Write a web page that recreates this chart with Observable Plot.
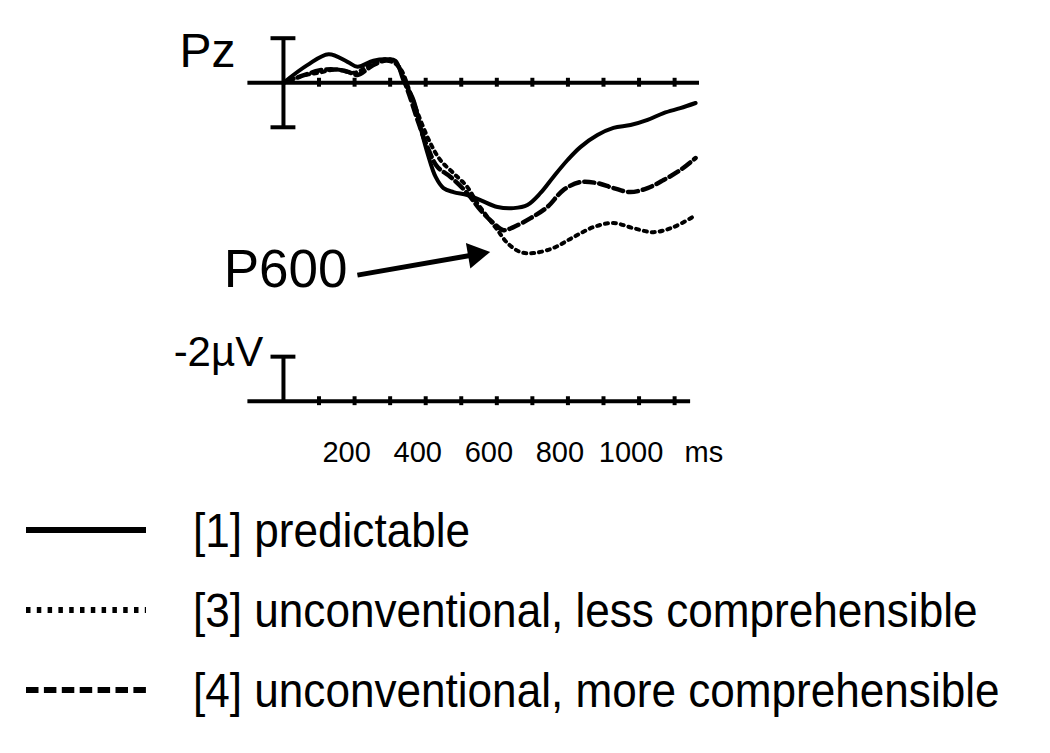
<!DOCTYPE html>
<html><head><meta charset="utf-8">
<script src="https://cdn.jsdelivr.net/npm/d3@7"></script>
<script src="https://cdn.jsdelivr.net/npm/@observablehq/plot@0.6"></script>
<style>
body{margin:0;background:#fff;font-family:"Liberation Sans",Arial,sans-serif;}
#chart svg{display:block;}
#legend .row{display:flex;align-items:center;height:80px;}
#legend svg{margin-left:26px;flex:none;}
#legend span{display:inline-block;font-size:49px;margin-left:47px;color:#000;line-height:1;white-space:nowrap;transform:scaleX(0.9);transform-origin:0 50%;}
</style></head><body>
<div id="chart"></div>
<div id="legend"></div>
<script>
// ---- data (ms, µV; positive plotted downward) ----
const predictableT = [0, 67, 127, 180, 208, 253, 292, 315, 337, 366, 385, 405, 428, 450, 478, 517, 554, 602, 647, 686, 723, 759, 799, 835, 883, 928, 976, 1024, 1069, 1116, 1159];
const predictableV = [0, -0.79, -1.28, -0.94, -0.72, -0.99, -1.05, -0.99, -0.12, 0.78, 1.99, 3.16, 4.23, 4.73, 4.91, 5.04, 5.27, 5.58, 5.63, 5.49, 4.95, 4.23, 3.47, 2.89, 2.35, 2.03, 1.90, 1.67, 1.36, 1.14, 0.91];

const lessCompT = [0, 50, 100, 150, 200, 250, 300, 330, 357, 385, 413, 441, 478, 517, 545, 574, 602, 630, 666, 703, 759, 816, 872, 928, 984, 1041, 1097, 1159];
const lessCompV = [0, -0.3, -0.45, -0.6, -0.45, -0.85, -1.05, -0.6, 0.47, 1.67, 2.71, 3.47, 4.06, 4.68, 5.40, 6.03, 6.62, 7.20, 7.60, 7.65, 7.42, 6.93, 6.48, 6.30, 6.53, 6.71, 6.48, 5.95];

const moreCompT = [0, 60, 100, 140, 180, 208, 253, 290, 320, 349, 377, 405, 433, 470, 517, 554, 591, 619, 647, 695, 742, 787, 835, 883, 928, 976, 1024, 1069, 1116, 1159];
const moreCompV = [0, -0.35, -0.55, -0.6, -0.5, -0.35, -0.8, -1.0, -0.8, 0.33, 1.67, 2.89, 3.78, 4.23, 4.96, 5.72, 6.31, 6.62, 6.48, 6.08, 5.58, 4.82, 4.46, 4.51, 4.73, 4.91, 4.73, 4.37, 3.92, 3.38];

const axisTicks = [100, 200, 300, 400, 500, 600, 700, 800, 900, 1000, 1100];
const tickLabels = [200, 400, 600, 800, 1000];
const calibrationUV = 2;        // size of scale bars in µV
const lowerAxisOffset = 14.3;   // µV offset of the lower time-scale axis

const seriesNames = ["[1] predictable", "[3] unconventional, less comprehensible", "[4] unconventional, more comprehensible"];

const toRows = (T, V) => T.map((t, i) => ({t, v: V[i]}));
const predictable = toRows(predictableT, predictableV);
const lessComp = toRows(lessCompT, lessCompV);
const moreComp = toRows(moreCompT, moreCompV);

const font = "Liberation Sans, Arial, sans-serif";
const lw = 4;

const chart = Plot.plot({
  width: 1050,
  height: 490,
  margin: 0,
  style: {background: "#fff", fontFamily: font},
  x: {domain: [-100, 1170], range: [247.4, 699], axis: null},
  y: {domain: [-2, 14.3], range: [37.7, 400.7], axis: null},
  marks: [
    // upper baseline with ticks
    Plot.ruleY([0], {x1: -100, x2: 1170, stroke: "#000", strokeWidth: lw}),
    Plot.ruleX(axisTicks, {x: d => d, y1: -0.2, y2: 0.2, stroke: "#000", strokeWidth: lw}),
    // upper ±2 µV calibration bar
    Plot.ruleX([0], {y1: -calibrationUV, y2: calibrationUV, stroke: "#000", strokeWidth: lw}),
    Plot.ruleY([-calibrationUV, calibrationUV], {x1: -35, x2: 35, stroke: "#000", strokeWidth: lw}),
    // lower time scale axis and -2 µV bar
    Plot.ruleY([lowerAxisOffset], {x1: -100, x2: 1145, stroke: "#000", strokeWidth: lw}),
    Plot.ruleX(axisTicks, {x: d => d, y1: lowerAxisOffset - 0.2, y2: lowerAxisOffset + 0.2, stroke: "#000", strokeWidth: lw}),
    Plot.ruleX([0], {y1: lowerAxisOffset - calibrationUV, y2: lowerAxisOffset, stroke: "#000", strokeWidth: lw}),
    Plot.ruleY([lowerAxisOffset - calibrationUV], {x1: -35, x2: 35, stroke: "#000", strokeWidth: lw}),
    // curves
    Plot.line(predictable, {x: "t", y: "v", stroke: "#000", strokeWidth: 4, curve: "catmull-rom"}),
    Plot.line(moreComp, {x: "t", y: "v", stroke: "#000", strokeWidth: 4.5, strokeDasharray: "10,5", curve: "catmull-rom"}),
    Plot.line(lessComp, {x: "t", y: "v", stroke: "#000", strokeWidth: 4, strokeDasharray: "3,5", curve: "catmull-rom"}),
    // labels
    Plot.text(["Pz"], {x: -135, y: -0.7, text: d => d, textAnchor: "end", lineAnchor: "bottom", fontSize: 48, fill: "#000", fontFamily: font}),
    Plot.text(["-2µV"], {x: -57, y: lowerAxisOffset - 1.6, text: d => d, textAnchor: "end", lineAnchor: "bottom", fontSize: 42, fill: "#000", fontFamily: font}),
    Plot.text(["P600"], {x: 180, y: 9.17, text: d => d, textAnchor: "end", lineAnchor: "bottom", fontSize: 53, fill: "#000", fontFamily: font}),
    Plot.text(tickLabels, {x: d => d, y: lowerAxisOffset + 2.73, text: d => String(d), dx: -8, textAnchor: "middle", lineAnchor: "bottom", fontSize: 29, fill: "#000", fontFamily: font}),
    Plot.text(["ms"], {x: 1128, y: lowerAxisOffset + 2.73, text: d => d, textAnchor: "start", lineAnchor: "bottom", fontSize: 29, fill: "#000", fontFamily: font}),
    // arrow to P600
    Plot.link([{x1: 208, y1: 8.64, x2: 545, y2: 7.70}], {x1: "x1", y1: "y1", x2: "x2", y2: "y2", stroke: "#000", strokeWidth: 5}),
    Plot.dot([{x: 540, y: 7.71}], {x: "x", y: "y", symbol: "triangle", r: 9.6, rotate: 80.2, fill: "#000", stroke: "none"})
  ]
});
document.getElementById("chart").appendChild(chart);

// legend
const legendDash = ["", "4.5,6.3", "12.5,5.4"];
const legend = document.getElementById("legend");
seriesNames.forEach((name, i) => {
  const row = document.createElement("div");
  row.className = "row";
  const dash = legendDash[i] ? `stroke-dasharray="${legendDash[i]}"` : "";
  row.innerHTML = `<svg width="120" height="20"><line x1="0" x2="120" y1="10" y2="10" stroke="#000" stroke-width="6" ${dash}/></svg><span>${name}</span>`;
  legend.appendChild(row);
});
</script>
</body></html>
